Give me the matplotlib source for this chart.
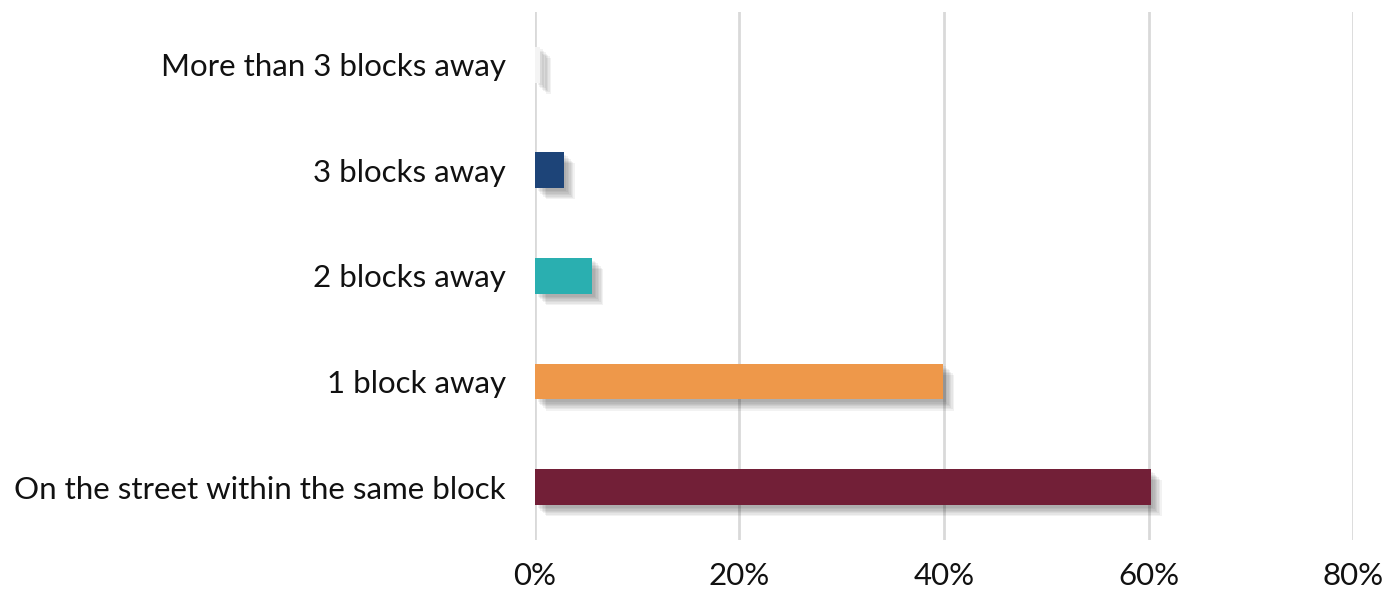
import matplotlib.pyplot as plt
import matplotlib.patheffects as pe
from matplotlib.ticker import PercentFormatter

categories = [
    "On the street within the same block",
    "1 block away",
    "2 blocks away",
    "3 blocks away",
    "More than 3 blocks away",
]
values = [60.2, 39.9, 5.6, 2.8, 0.5]
colors = ["#721f37", "#ee984a", "#2aafb0", "#1d4478", "#f4f4f4"]

plt.rcParams['font.family'] = ['Lato', 'DejaVu Sans']

fig = plt.figure(figsize=(13.88, 5.92), dpi=100)
ax = fig.add_axes([0.3854, 0.088, 0.5894, 0.892])

bars = ax.barh(range(len(categories)), values, height=0.34, color=colors, zorder=3)

# soft drop shadow, layered to fake a blur
shadow = []
for d in [8, 7, 6, 5, 4, 3, 2]:
    shadow.append(pe.SimplePatchShadow(offset=(d, -d), shadow_rgbFace='black', alpha=0.05))
shadow.append(pe.Normal())
for b in bars:
    b.set_path_effects(shadow)

ax.set_xlim(0, 80)
ax.set_ylim(-0.5, 4.5)
ax.set_xticks([0, 20, 40, 60, 80])
ax.xaxis.set_major_formatter(PercentFormatter(decimals=0))
ax.set_yticks(range(len(categories)))
ax.set_yticklabels(categories)

ax.grid(axis='x', color='#d9d9d9', linewidth=2, zorder=0)
ax.tick_params(axis='both', length=0, labelsize=22.5, colors='#111111')
ax.tick_params(axis='y', pad=21)
ax.tick_params(axis='x', pad=16)
for s in ax.spines.values():
    s.set_visible(False)

fig.savefig("out.png", dpi=100)
